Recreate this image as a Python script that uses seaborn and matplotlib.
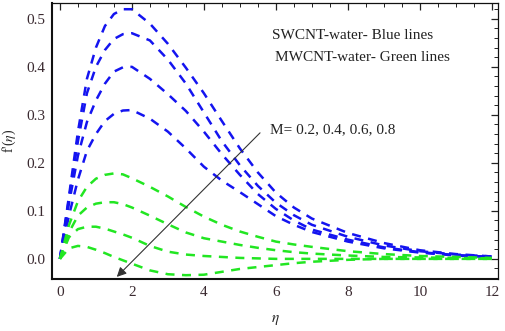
import matplotlib

matplotlib.use("Agg")

import matplotlib.pyplot as plt
import pandas as pd
import seaborn as sns
from matplotlib.ticker import FuncFormatter, MultipleLocator

ETA = [0, 0.25, 0.5, 0.75, 1.0, 1.25, 1.5, 1.75, 2.0, 2.5, 3.0, 3.5, 4.0, 4.5,
       5.0, 5.5, 6.0, 6.5, 7.0, 8.0, 9.0, 10.0, 11.0, 12.0]

# SWCNT-water (blue), M = 0.2, 0.4, 0.6, 0.8
SW_M02 = [0, 0.13, 0.265, 0.375, 0.44, 0.485, 0.51, 0.52, 0.52, 0.49, 0.448, 0.398,
          0.345, 0.287, 0.23, 0.18, 0.138, 0.107, 0.084, 0.054, 0.033, 0.018, 0.01, 0.005]
SW_M04 = [0, 0.125, 0.245, 0.345, 0.40, 0.435, 0.458, 0.468, 0.47, 0.455, 0.415, 0.365,
          0.305, 0.245, 0.195, 0.152, 0.117, 0.091, 0.071, 0.046, 0.028, 0.016, 0.009, 0.005]
SW_M06 = [0, 0.115, 0.215, 0.285, 0.33, 0.365, 0.39, 0.399, 0.40, 0.375, 0.343, 0.308,
          0.265, 0.218, 0.175, 0.135, 0.104, 0.08, 0.061, 0.04, 0.024, 0.014, 0.008, 0.004]
SW_M08 = [0, 0.09, 0.165, 0.225, 0.26, 0.287, 0.302, 0.309, 0.31, 0.292, 0.265, 0.23,
          0.192, 0.163, 0.139, 0.114, 0.089, 0.071, 0.056, 0.036, 0.022, 0.013, 0.007, 0.004]

# MWCNT-water (green), M = 0.2, 0.4, 0.6, 0.8
MW_M02 = [0, 0.07, 0.12, 0.15, 0.167, 0.175, 0.178, 0.176, 0.168, 0.15, 0.13, 0.108,
          0.088, 0.071, 0.057, 0.046, 0.036, 0.03, 0.025, 0.016, 0.01, 0.006, 0.004, 0.002]
MW_M04 = [0, 0.055, 0.09, 0.107, 0.115, 0.118, 0.118, 0.114, 0.107, 0.09, 0.072, 0.055,
          0.043, 0.036, 0.029, 0.023, 0.018, 0.014, 0.011, 0.007, 0.004, 0.003, 0.002, 0.001]
MW_M06 = [0, 0.045, 0.062, 0.067, 0.067, 0.063, 0.057, 0.051, 0.044, 0.027, 0.015, 0.009,
          0.006, 0.004, 0.002, 0.001, 0.0, 0.0, 0.0, 0.0, 0.0, 0.0, 0.0, 0.0]
MW_M08 = [0, 0.022, 0.027, 0.025, 0.019, 0.012, 0.004, -0.003, -0.01, -0.024, -0.032, -0.034,
          -0.033, -0.027, -0.021, -0.017, -0.013, -0.009, -0.006, -0.002, 0.0, 0.0, 0.0, 0.0]

BLUE = "#1414f0"
GREEN = "#22e622"

curves = {
    "sw02": (SW_M02, BLUE), "sw04": (SW_M04, BLUE), "sw06": (SW_M06, BLUE), "sw08": (SW_M08, BLUE),
    "mw02": (MW_M02, GREEN), "mw04": (MW_M04, GREEN), "mw06": (MW_M06, GREEN), "mw08": (MW_M08, GREEN),
}

rows = []
for name, (vals, _) in curves.items():
    for e, v in zip(ETA, vals):
        rows.append({"eta": e, "f": v, "curve": name})
df = pd.DataFrame(rows)

sns.set_theme(style="white")
plt.rcParams["font.family"] = ["Liberation Serif", "DejaVu Serif"]
plt.rcParams["mathtext.fontset"] = "stix"

fig = plt.figure(figsize=(5.05, 3.31), dpi=100)
ax = fig.add_axes([0.103, 0.157, 0.883, 0.834])

sns.lineplot(
    data=df, x="eta", y="f", hue="curve", style="curve",
    palette={k: c for k, (_, c) in curves.items()},
    dashes={k: (3.6, 3.0) for k in curves},
    linewidth=1.8, legend=False, ax=ax,
)

ax.set_xlim(-0.22, 12.17)
ax.set_ylim(-0.042, 0.533)
ax.xaxis.set_major_locator(MultipleLocator(2))
ax.xaxis.set_minor_locator(MultipleLocator(0.5))
ax.yaxis.set_major_locator(MultipleLocator(0.1))
ax.yaxis.set_minor_locator(MultipleLocator(0.02))
ax.xaxis.set_major_formatter(FuncFormatter(lambda v, p: f"{v:.0f}"))
ax.yaxis.set_major_formatter(FuncFormatter(lambda v, p: f"{v:.1f}"))
ax.tick_params(which="both", direction="in", top=True, right=True, color="#222222",
               labelsize=11, labelcolor="#3a2a30", pad=5)
ax.tick_params(which="major", length=5, width=0.9)
ax.tick_params(which="minor", length=2.8, width=0.7)
for side, sp in ax.spines.items():
    sp.set_color("#111111")
    sp.set_linewidth(1.5 if side in ("left", "bottom") else 0.9)

ax.set_xlabel(r"$\eta$", fontsize=11, labelpad=10)
ax.set_ylabel(r"f'($\eta$)", fontsize=10, labelpad=6)

ax.text(5.89, 0.465, "SWCNT-water- Blue lines", fontsize=11, va="center", color="#222222")
ax.text(5.97, 0.42, "MWCNT-water- Green lines", fontsize=11, va="center", color="#222222")
ax.text(5.83, 0.27, "M= 0.2, 0.4, 0.6, 0.8", fontsize=11, va="center", color="#222222")
ax.annotate("", xy=(1.58, -0.0375), xytext=(5.56, 0.2625),
            arrowprops=dict(arrowstyle="-|>", color="#333333", lw=0.8,
                            mutation_scale=14, shrinkA=0, shrinkB=0))

fig.savefig("out.png", dpi=100)
